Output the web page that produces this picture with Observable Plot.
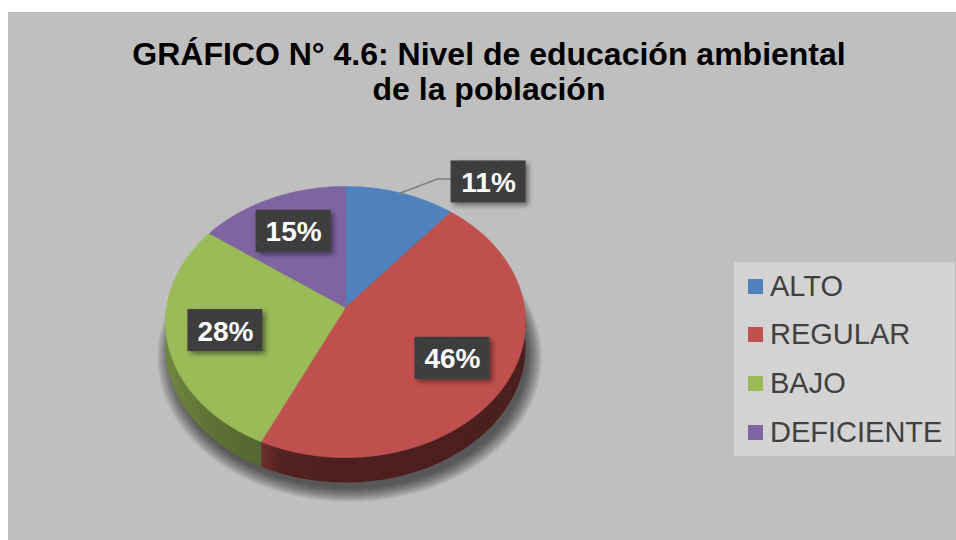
<!DOCTYPE html>
<html><head><meta charset="utf-8">
<script src="https://cdn.jsdelivr.net/npm/d3@7"></script>
<script src="https://cdn.jsdelivr.net/npm/@observablehq/plot@0.6"></script>
<style>
body{margin:0;background:#fff;width:956px;height:540px;overflow:hidden;position:relative;font-family:"Liberation Sans",Arial,sans-serif}
#panel{position:absolute;left:8px;top:12px;width:948px;height:528px;background:#bfbfbf}
#title{position:absolute;left:0;top:37px;width:978px;text-align:center;font-weight:bold;font-size:32px;line-height:35px;color:#000}
#chart{position:absolute;left:0;top:0}
#legend{position:absolute;left:734px;top:262px;width:221px;height:194px;background:#d3d3d3}
.item{position:absolute;left:14px;height:30px;display:flex;align-items:center;font-size:29px;color:#404040;white-space:nowrap}
.sw{width:15px;height:15px;margin-right:7px;flex:none}
</style></head><body>
<div id="panel"></div>
<div id="title">GRÁFICO N° 4.6: Nivel de educación ambiental<br>de la población</div>
<div id="chart"></div>
<div id="legend"></div>
<script>
const categories = ["ALTO", "REGULAR", "BAJO", "DEFICIENTE"];
const values = [11, 46, 28, 15];
const colors = ["#4f81bd", "#c0504d", "#9bbb59", "#8064a2"];
const labels = ["11%", "46%", "28%", "15%"];

// layout
const W = 956, H = 540;
const xRange = [166, 524], yRange = [441, 173]; // domain [-1,1]
const sx = (xRange[1] - xRange[0]) / 2, sy = (yRange[0] - yRange[1]) / 2;
const K = 0.107;             // perspective
const depth = 25 / sy;       // side thickness in y units
const pxX = p => p / sx, pxY = p => -p / sy;

function proj(a, r) {
  const ux = r * Math.sin(a), uy = r * Math.cos(a);
  const w = 1 + K * uy;
  return [ux / w, uy / w];
}
function shade(hex, f) {
  const c = d3.rgb(hex);
  return d3.rgb(c.r * f, c.g * f, c.b * f).formatHex();
}

const arcs = d3.pie().sort(null).value(d => d.value)(
  categories.map((c, i) => ({cat: c, value: values[i], color: colors[i], label: labels[i]})));

const step = Math.PI / 180;
const tops = [], sides = [], shadow = [], leaders = [], boxes = [], grads = [];
arcs.forEach((s, i) => {
  const pts = [[0, 0]];
  const n = Math.max(2, Math.ceil((s.endAngle - s.startAngle) / step));
  for (let j = 0; j <= n; j++) pts.push(proj(s.startAngle + (s.endAngle - s.startAngle) * j / n, 1));
  pts.push([0, 0]);
  pts.forEach(([x, y]) => tops.push({z: s.data.cat, x, y, fill: s.data.color}));
  // visible side (front half)
  const a0 = Math.max(s.startAngle, Math.PI / 2), a1 = Math.min(s.endAngle, 3 * Math.PI / 2);
  if (a1 > a0) {
    const m = Math.max(2, Math.ceil((a1 - a0) / step));
    const up = [], down = [];
    for (let j = 0; j <= m; j++) {
      const [x, y] = proj(a0 + (a1 - a0) * j / m, 1);
      up.push([x, y]); down.push([x, y - depth]);
    }
    const ring = up.concat(down.reverse());
    ring.push(up[0]);
    const id = "side" + i;
    ring.forEach(([x, y]) => sides.push({z: s.data.cat, x, y, fill: `url(#${id})`}));
    const xs = up.map(p => p[0]);
    grads.push({id, color: s.data.color, x0: d3.min(xs), x1: d3.max(xs), leftLit: s.startAngle < Math.PI});
  }
  // labels
  const mid = (s.startAngle + s.endAngle) / 2;
  const bw = pxX(75) / 2, bh = -pxY(42) / 2;
  let cx, cy;
  if (s.data.value < 12) {
    const [ex, ey] = proj(mid, 1);
    leaders.push({x: ex, y: ey}, {x: ex + pxX(37), y: ey + pxY(-14)}, {x: ex + pxX(50), y: ey + pxY(-14)});
    cx = ex + pxX(88); cy = ey + pxY(-11);
  } else {
    [cx, cy] = proj(mid, 0.68);
  }
  boxes.push({x1: cx - bw, x2: cx + bw, y1: cy - bh, y2: cy + bh, x: cx, y: cy, label: s.data.label});
});
// soft shadow: stacked translucent ellipses
for (let k = 0; k < 12; k++) {
  const r = 0.99 + 0.007 * k;
  for (let j = 0; j <= 360; j += 3) {
    const [x, y] = proj(j * step, r);
    shadow.push({z: k, x: x + pxX(4), y: y - depth + pxY(8)});
  }
}

const plot = Plot.plot({
  width: W, height: H,
  margin: 0,
  style: {background: "transparent", overflow: "visible"},
  x: {domain: [-1, 1], range: xRange, axis: null},
  y: {domain: [-1, 1], range: yRange, axis: null},
  color: {type: "identity"},
  marks: [
    Plot.line(shadow, {x: "x", y: "y", z: "z", fill: "#000", fillOpacity: 0.06, stroke: "none"}),
    Plot.line(sides, {x: "x", y: "y", z: "z", fill: "fill", stroke: "none", curve: "linear"}),
    Plot.line(tops, {x: "x", y: "y", z: "z", fill: "fill", stroke: "fill", strokeWidth: 0.5, curve: "linear"}),
    Plot.line(leaders, {x: "x", y: "y", stroke: "#7f7f7f", strokeWidth: 1.5}),
    Plot.rect(boxes, {x1: "x1", x2: "x2", y1: "y1", y2: "y2", fill: "url(#tex)"}),
    Plot.text(boxes, {x: "x", y: "y", text: "label", fill: "#fff", fontSize: 28, fontWeight: "bold",
      fontFamily: "Liberation Sans, Arial, sans-serif", dy: 1})
  ]
});

// SVG defs: drop shadow, side gradients, label texture
const svg = d3.select(plot);
const defs = svg.insert("defs", ":first-child");
const fd = defs.append("filter").attr("id", "boxShadow").attr("x", "-20%").attr("y", "-20%").attr("width", "150%").attr("height", "160%");
fd.append("feDropShadow").attr("dx", 3).attr("dy", 3).attr("stdDeviation", 2.5).attr("flood-color", "#000").attr("flood-opacity", 0.45);
const xs = plot.scale("x");
grads.forEach(g => {
  const lg = defs.append("linearGradient").attr("id", g.id).attr("gradientUnits", "userSpaceOnUse")
    .attr("x1", xs.apply(g.x0)).attr("x2", xs.apply(g.x1)).attr("y1", 0).attr("y2", 0);
  const stops = g.leftLit
    ? [[0, 0.58], [0.08, 0.42], [0.3, 0.4], [1, 0.39]]
    : [[0, 0.72], [0.5, 0.6], [1, 0.55]];
  stops.forEach(([o, f]) => lg.append("stop").attr("offset", o).attr("stop-color", shade(g.color, f)));
});
const pat = defs.append("pattern").attr("id", "tex").attr("patternUnits", "userSpaceOnUse").attr("width", 10).attr("height", 10);
pat.append("rect").attr("width", 10).attr("height", 10).attr("fill", "#3d3d3d");
pat.append("path").attr("d", "M1,8 L4,5 M6,3 L9,0").attr("stroke", "#474747").attr("stroke-width", 1);
svg.selectAll('g[aria-label="rect"]').attr("filter", "url(#boxShadow)");
document.getElementById("chart").appendChild(plot);

const legend = d3.select("#legend");
categories.forEach((c, i) => {
  const it = legend.append("div").attr("class", "item").style("top", (9 + i * 48.7) + "px");
  it.append("div").attr("class", "sw").style("background", colors[i]);
  it.append("span").text(c);
});
</script>
</body></html>
